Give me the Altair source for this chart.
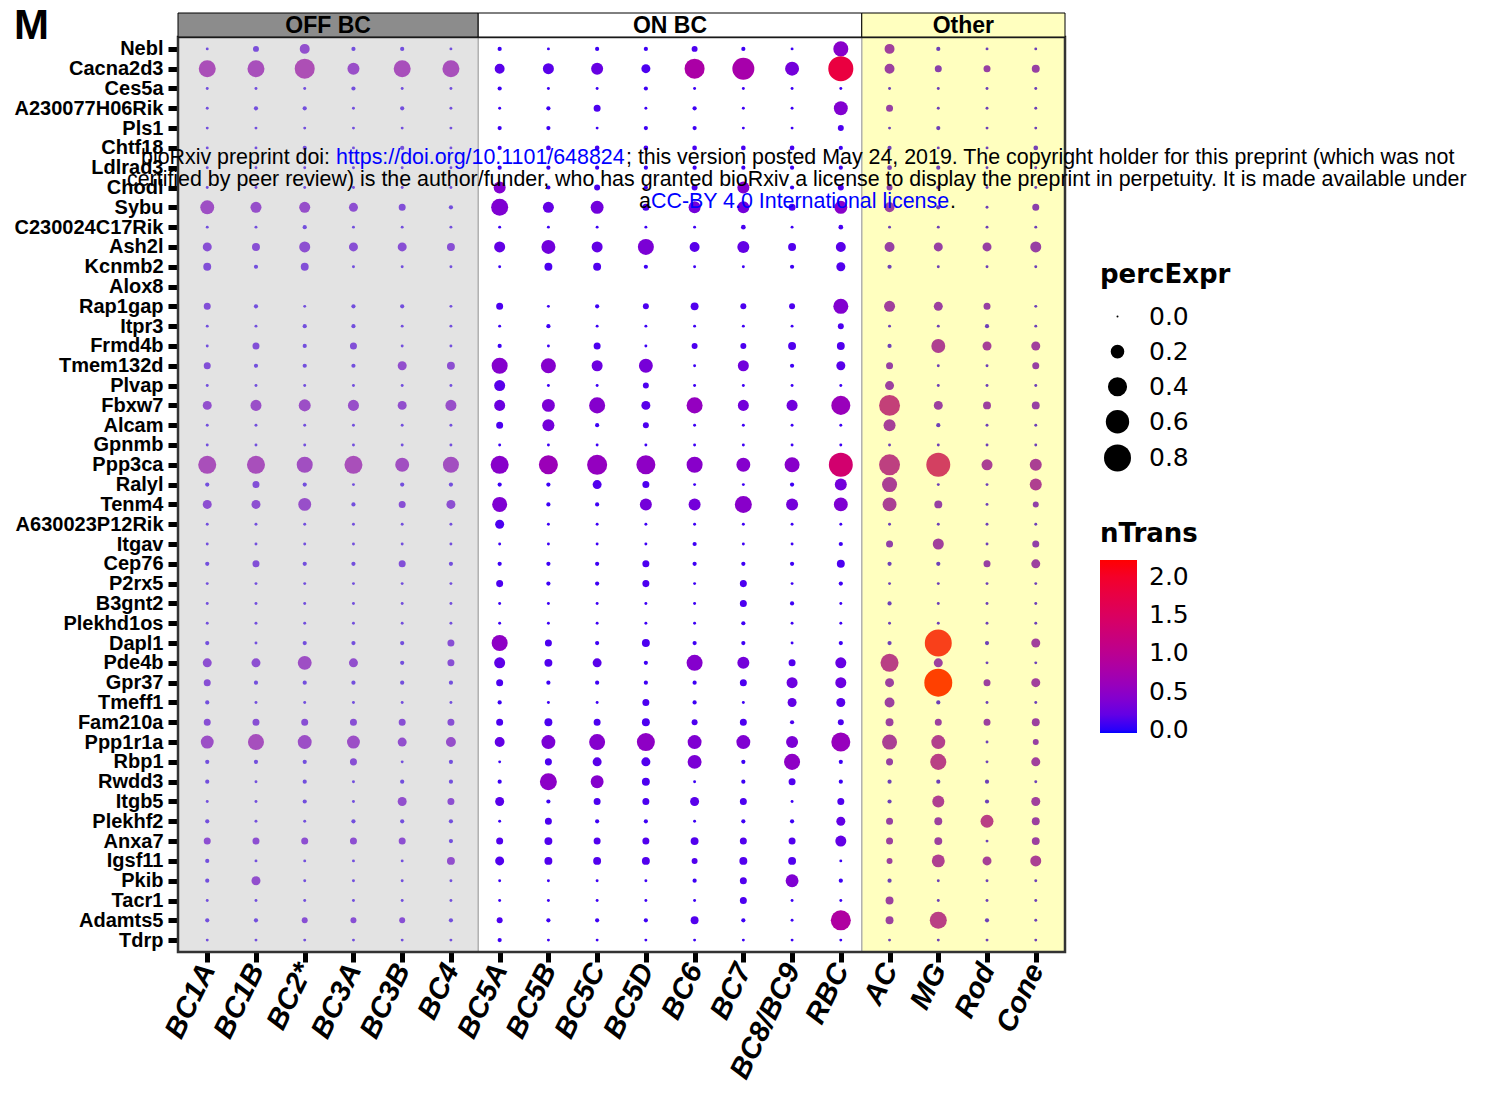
import json
import altair as alt
import pandas as pd

# Cell clusters (x axis, left to right) and genes (y axis, top to bottom)
CLUSTERS = ["BC1A", "BC1B", "BC2*", "BC3A", "BC3B", "BC4", "BC5A", "BC5B", "BC5C",
            "BC5D", "BC6", "BC7", "BC8/BC9", "RBC", "AC", "MG", "Rod", "Cone"]

GENES = ["Nebl", "Cacna2d3", "Ces5a", "A230077H06Rik", "Pls1", "Chtf18", "Ldlrad3",
         "Chodl", "Sybu", "C230024C17Rik", "Ash2l", "Kcnmb2", "Alox8", "Rap1gap",
         "Itpr3", "Frmd4b", "Tmem132d", "Plvap", "Fbxw7", "Alcam", "Gpnmb", "Ppp3ca",
         "Ralyl", "Tenm4", "A630023P12Rik", "Itgav", "Cep76", "P2rx5", "B3gnt2",
         "Plekhd1os", "Dapl1", "Pde4b", "Gpr37", "Tmeff1", "Fam210a", "Ppp1r1a",
         "Rbp1", "Rwdd3", "Itgb5", "Plekhf2", "Anxa7", "Igsf11", "Pkib", "Tacr1",
         "Adamts5", "Tdrp"]

# Fraction of cells expressing each gene (one row per gene, one value per cluster)
PERC_EXPR = [
    [0.005, 0.035, 0.105, 0.015, 0.015, 0.005, 0.015, 0.005, 0.015, 0.015, 0.035, 0.015, 0.005, 0.245, 0.105, 0.015, 0.005, 0.005],
    [0.315, 0.315, 0.44, 0.155, 0.315, 0.315, 0.105, 0.13, 0.155, 0.085, 0.44, 0.53, 0.21, 0.69, 0.105, 0.05, 0.05, 0.065],
    [0.005, 0.005, 0.005, 0.015, 0.005, 0.005, 0.015, 0.005, 0.005, 0.015, 0.005, 0.005, 0.005, 0.005, 0.005, 0.005, 0.005, 0.005],
    [0.005, 0.015, 0.015, 0.005, 0.015, 0.005, 0.005, 0.015, 0.05, 0.005, 0.015, 0.005, 0.005, 0.21, 0.05, 0.005, 0.005, 0.005],
    [0.005, 0.005, 0.005, 0.005, 0.005, 0.005, 0.015, 0.015, 0.005, 0.015, 0.015, 0.005, 0.005, 0.035, 0.005, 0.015, 0.005, 0.005],
    [0.005, 0.005, 0.015, 0.005, 0.015, 0.005, 0.015, 0.02, 0.02, 0.02, 0.02, 0.02, 0.02, 0.015, 0.015, 0.005, 0.005, 0.02],
    [0.005, 0.005, 0.005, 0.005, 0.005, 0.005, 0.015, 0.015, 0.015, 0.015, 0.015, 0.015, 0.015, 0.015, 0.02, 0.015, 0.005, 0.005],
    [0.005, 0.005, 0.005, 0.005, 0.005, 0.005, 0.155, 0.015, 0.035, 0.015, 0.035, 0.155, 0.015, 0.035, 0.035, 0.015, 0.005, 0.005],
    [0.21, 0.13, 0.13, 0.085, 0.05, 0.015, 0.315, 0.13, 0.18, 0.05, 0.155, 0.155, 0.05, 0.18, 0.105, 0.015, 0.005, 0.05],
    [0.005, 0.005, 0.015, 0.005, 0.005, 0.005, 0.005, 0.005, 0.005, 0.005, 0.005, 0.02, 0.005, 0.02, 0.005, 0.005, 0.005, 0.005],
    [0.085, 0.065, 0.13, 0.085, 0.085, 0.065, 0.13, 0.21, 0.13, 0.28, 0.105, 0.155, 0.065, 0.105, 0.105, 0.085, 0.085, 0.13],
    [0.065, 0.015, 0.065, 0.005, 0.005, 0.005, 0.005, 0.065, 0.065, 0.015, 0.005, 0.005, 0.015, 0.085, 0.015, 0.005, 0.005, 0.005],
    None,
    [0.05, 0.015, 0.005, 0.015, 0.015, 0.005, 0.05, 0.005, 0.015, 0.035, 0.065, 0.035, 0.035, 0.245, 0.13, 0.085, 0.05, 0.005],
    [0.005, 0.005, 0.015, 0.015, 0.005, 0.005, 0.005, 0.015, 0.005, 0.005, 0.005, 0.005, 0.005, 0.035, 0.005, 0.005, 0.015, 0.005],
    [0.005, 0.05, 0.015, 0.05, 0.005, 0.005, 0.015, 0.005, 0.05, 0.005, 0.035, 0.035, 0.065, 0.065, 0.015, 0.21, 0.085, 0.085],
    [0.05, 0.015, 0.015, 0.015, 0.085, 0.065, 0.28, 0.245, 0.13, 0.21, 0.005, 0.13, 0.015, 0.085, 0.05, 0.005, 0.005, 0.05],
    [0.005, 0.005, 0.005, 0.005, 0.005, 0.005, 0.13, 0.005, 0.005, 0.035, 0.005, 0.005, 0.005, 0.005, 0.085, 0.005, 0.005, 0.005],
    [0.085, 0.13, 0.155, 0.13, 0.085, 0.13, 0.13, 0.18, 0.28, 0.085, 0.28, 0.13, 0.13, 0.395, 0.48, 0.085, 0.065, 0.065],
    [0.005, 0.005, 0.005, 0.005, 0.005, 0.005, 0.05, 0.155, 0.015, 0.035, 0.005, 0.005, 0.005, 0.005, 0.155, 0.015, 0.005, 0.005],
    [0.005, 0.005, 0.005, 0.005, 0.005, 0.005, 0.005, 0.005, 0.005, 0.005, 0.005, 0.005, 0.005, 0.005, 0.005, 0.005, 0.005, 0.005],
    [0.355, 0.355, 0.28, 0.355, 0.21, 0.28, 0.355, 0.395, 0.44, 0.395, 0.28, 0.21, 0.245, 0.63, 0.48, 0.63, 0.13, 0.155],
    [0.015, 0.05, 0.015, 0.005, 0.015, 0.015, 0.015, 0.015, 0.085, 0.05, 0.005, 0.005, 0.015, 0.155, 0.245, 0.005, 0.005, 0.155],
    [0.085, 0.085, 0.18, 0.015, 0.05, 0.085, 0.245, 0.015, 0.015, 0.155, 0.155, 0.315, 0.155, 0.21, 0.21, 0.065, 0.005, 0.035],
    [0.005, 0.005, 0.005, 0.005, 0.005, 0.005, 0.085, 0.005, 0.005, 0.005, 0.005, 0.005, 0.005, 0.005, 0.005, 0.005, 0.005, 0.005],
    [0.005, 0.005, 0.005, 0.005, 0.005, 0.005, 0.005, 0.005, 0.005, 0.005, 0.015, 0.005, 0.005, 0.015, 0.05, 0.13, 0.005, 0.05],
    [0.015, 0.05, 0.015, 0.015, 0.05, 0.015, 0.015, 0.015, 0.015, 0.05, 0.015, 0.015, 0.015, 0.065, 0.015, 0.015, 0.05, 0.085],
    [0.005, 0.005, 0.005, 0.005, 0.005, 0.005, 0.05, 0.015, 0.015, 0.05, 0.005, 0.05, 0.005, 0.015, 0.005, 0.005, 0.005, 0.005],
    [0.005, 0.005, 0.005, 0.005, 0.005, 0.005, 0.005, 0.005, 0.005, 0.005, 0.005, 0.05, 0.015, 0.005, 0.015, 0.005, 0.005, 0.005],
    [0.005, 0.005, 0.005, 0.005, 0.005, 0.005, 0.005, 0.005, 0.005, 0.005, 0.005, 0.015, 0.005, 0.005, 0.005, 0.005, 0.005, 0.005],
    [0.015, 0.005, 0.015, 0.015, 0.015, 0.05, 0.28, 0.05, 0.015, 0.065, 0.015, 0.015, 0.005, 0.015, 0.015, 0.8, 0.015, 0.085],
    [0.085, 0.085, 0.21, 0.085, 0.015, 0.05, 0.13, 0.065, 0.085, 0.015, 0.28, 0.155, 0.05, 0.13, 0.355, 0.085, 0.005, 0.005],
    [0.05, 0.015, 0.015, 0.015, 0.015, 0.015, 0.05, 0.015, 0.015, 0.015, 0.015, 0.05, 0.13, 0.13, 0.085, 0.86, 0.05, 0.085],
    [0.015, 0.005, 0.005, 0.005, 0.005, 0.005, 0.015, 0.005, 0.005, 0.05, 0.015, 0.005, 0.085, 0.085, 0.105, 0.015, 0.005, 0.005],
    [0.05, 0.05, 0.05, 0.05, 0.05, 0.05, 0.05, 0.065, 0.05, 0.065, 0.035, 0.05, 0.015, 0.035, 0.065, 0.05, 0.05, 0.065],
    [0.18, 0.28, 0.21, 0.18, 0.085, 0.105, 0.105, 0.21, 0.28, 0.355, 0.21, 0.21, 0.155, 0.395, 0.245, 0.21, 0.005, 0.035],
    [0.015, 0.015, 0.015, 0.05, 0.005, 0.015, 0.005, 0.05, 0.085, 0.085, 0.21, 0.015, 0.28, 0.015, 0.05, 0.28, 0.005, 0.085],
    [0.015, 0.005, 0.015, 0.005, 0.015, 0.015, 0.015, 0.315, 0.18, 0.065, 0.005, 0.015, 0.05, 0.015, 0.015, 0.015, 0.015, 0.005],
    [0.005, 0.005, 0.015, 0.005, 0.085, 0.05, 0.085, 0.015, 0.05, 0.05, 0.085, 0.05, 0.005, 0.05, 0.015, 0.155, 0.015, 0.085],
    [0.015, 0.005, 0.005, 0.015, 0.015, 0.015, 0.005, 0.05, 0.015, 0.015, 0.005, 0.015, 0.015, 0.085, 0.05, 0.065, 0.18, 0.065],
    [0.05, 0.05, 0.05, 0.05, 0.05, 0.015, 0.05, 0.065, 0.05, 0.05, 0.065, 0.05, 0.05, 0.13, 0.05, 0.065, 0.005, 0.065],
    [0.015, 0.005, 0.005, 0.005, 0.005, 0.065, 0.085, 0.065, 0.065, 0.065, 0.035, 0.065, 0.065, 0.005, 0.035, 0.18, 0.085, 0.13],
    [0.015, 0.085, 0.005, 0.005, 0.005, 0.005, 0.005, 0.005, 0.005, 0.005, 0.015, 0.05, 0.18, 0.015, 0.015, 0.005, 0.005, 0.005],
    [0.005, 0.005, 0.005, 0.005, 0.005, 0.005, 0.005, 0.005, 0.005, 0.005, 0.005, 0.05, 0.005, 0.005, 0.065, 0.005, 0.005, 0.005],
    [0.015, 0.015, 0.035, 0.035, 0.035, 0.015, 0.035, 0.015, 0.015, 0.015, 0.065, 0.015, 0.005, 0.44, 0.065, 0.315, 0.015, 0.005],
    [0.005, 0.005, 0.005, 0.005, 0.005, 0.005, 0.015, 0.005, 0.005, 0.005, 0.005, 0.005, 0.005, 0.005, 0.005, 0.005, 0.005, 0.005],
]

# Mean transcript count per expressing cell (same layout as PERC_EXPR)
N_TRANS = [
    [0.05, 0.1, 0.3, 0.05, 0.05, 0.05, 0.05, 0.05, 0.05, 0.05, 0.1, 0.05, 0.05, 0.45, 0.4, 0.05, 0.05, 0.05],
    [0.65, 0.6, 0.7, 0.4, 0.6, 0.6, 0.15, 0.15, 0.22, 0.1, 0.8, 0.75, 0.3, 1.8, 0.35, 0.2, 0.3, 0.3],
    [0.05, 0.05, 0.05, 0.05, 0.05, 0.05, 0.05, 0.05, 0.05, 0.05, 0.05, 0.05, 0.05, 0.05, 0.05, 0.05, 0.05, 0.05],
    [0.05, 0.05, 0.05, 0.05, 0.05, 0.05, 0.05, 0.05, 0.1, 0.05, 0.05, 0.05, 0.05, 0.4, 0.3, 0.05, 0.05, 0.05],
    [0.05, 0.05, 0.05, 0.05, 0.05, 0.05, 0.05, 0.05, 0.05, 0.05, 0.05, 0.05, 0.05, 0.1, 0.05, 0.05, 0.05, 0.05],
    [0.05, 0.05, 0.05, 0.05, 0.05, 0.05, 0.05, 0.08, 0.08, 0.08, 0.08, 0.08, 0.08, 0.05, 0.05, 0.05, 0.05, 0.08],
    [0.05, 0.05, 0.05, 0.05, 0.05, 0.05, 0.05, 0.05, 0.05, 0.05, 0.05, 0.05, 0.05, 0.05, 0.1, 0.05, 0.05, 0.05],
    [0.05, 0.05, 0.05, 0.05, 0.05, 0.05, 0.4, 0.05, 0.1, 0.05, 0.1, 0.4, 0.05, 0.1, 0.2, 0.05, 0.05, 0.05],
    [0.45, 0.35, 0.35, 0.25, 0.15, 0.05, 0.38, 0.2, 0.28, 0.1, 0.3, 0.3, 0.1, 0.45, 0.35, 0.05, 0.05, 0.2],
    [0.05, 0.05, 0.05, 0.05, 0.05, 0.05, 0.05, 0.05, 0.05, 0.05, 0.05, 0.08, 0.05, 0.08, 0.05, 0.05, 0.05, 0.05],
    [0.2, 0.2, 0.25, 0.2, 0.2, 0.2, 0.2, 0.28, 0.2, 0.35, 0.15, 0.2, 0.12, 0.15, 0.3, 0.3, 0.3, 0.3],
    [0.15, 0.05, 0.15, 0.05, 0.05, 0.05, 0.05, 0.1, 0.12, 0.05, 0.05, 0.05, 0.05, 0.12, 0.05, 0.05, 0.05, 0.05],
    None,
    [0.15, 0.05, 0.05, 0.05, 0.05, 0.05, 0.1, 0.05, 0.05, 0.1, 0.12, 0.1, 0.1, 0.4, 0.4, 0.35, 0.3, 0.05],
    [0.05, 0.05, 0.05, 0.05, 0.05, 0.05, 0.05, 0.05, 0.05, 0.05, 0.05, 0.05, 0.05, 0.1, 0.05, 0.05, 0.05, 0.05],
    [0.05, 0.15, 0.05, 0.15, 0.05, 0.05, 0.05, 0.05, 0.1, 0.05, 0.1, 0.1, 0.12, 0.12, 0.05, 0.55, 0.45, 0.4],
    [0.15, 0.05, 0.05, 0.05, 0.3, 0.25, 0.42, 0.42, 0.25, 0.32, 0.05, 0.28, 0.05, 0.15, 0.3, 0.05, 0.05, 0.3],
    [0.05, 0.05, 0.05, 0.05, 0.05, 0.05, 0.15, 0.05, 0.05, 0.1, 0.05, 0.05, 0.05, 0.05, 0.35, 0.05, 0.05, 0.05],
    [0.3, 0.4, 0.42, 0.38, 0.3, 0.38, 0.25, 0.35, 0.42, 0.15, 0.55, 0.3, 0.28, 0.6, 0.85, 0.35, 0.35, 0.3],
    [0.05, 0.05, 0.05, 0.05, 0.05, 0.05, 0.1, 0.3, 0.05, 0.1, 0.05, 0.05, 0.05, 0.05, 0.45, 0.05, 0.05, 0.05],
    [0.05, 0.05, 0.05, 0.05, 0.05, 0.05, 0.05, 0.05, 0.05, 0.05, 0.05, 0.05, 0.05, 0.05, 0.05, 0.05, 0.05, 0.05],
    [0.62, 0.6, 0.5, 0.62, 0.5, 0.52, 0.45, 0.62, 0.55, 0.5, 0.45, 0.42, 0.45, 1.35, 0.75, 1.15, 0.5, 0.5],
    [0.05, 0.15, 0.05, 0.05, 0.05, 0.05, 0.05, 0.05, 0.12, 0.1, 0.05, 0.05, 0.05, 0.3, 0.5, 0.05, 0.05, 0.55],
    [0.25, 0.25, 0.38, 0.05, 0.2, 0.25, 0.38, 0.05, 0.05, 0.3, 0.3, 0.45, 0.3, 0.38, 0.5, 0.3, 0.05, 0.25],
    [0.05, 0.05, 0.05, 0.05, 0.05, 0.05, 0.1, 0.05, 0.05, 0.05, 0.05, 0.05, 0.05, 0.05, 0.05, 0.05, 0.05, 0.05],
    [0.05, 0.05, 0.05, 0.05, 0.05, 0.05, 0.05, 0.05, 0.05, 0.05, 0.05, 0.05, 0.05, 0.05, 0.25, 0.4, 0.05, 0.25],
    [0.05, 0.15, 0.05, 0.05, 0.15, 0.05, 0.05, 0.05, 0.05, 0.1, 0.05, 0.05, 0.05, 0.1, 0.05, 0.05, 0.3, 0.35],
    [0.05, 0.05, 0.05, 0.05, 0.05, 0.05, 0.1, 0.05, 0.05, 0.1, 0.05, 0.1, 0.05, 0.05, 0.05, 0.05, 0.05, 0.05],
    [0.05, 0.05, 0.05, 0.05, 0.05, 0.05, 0.05, 0.05, 0.05, 0.05, 0.05, 0.1, 0.05, 0.05, 0.05, 0.05, 0.05, 0.05],
    [0.05, 0.05, 0.05, 0.05, 0.05, 0.05, 0.05, 0.05, 0.05, 0.05, 0.05, 0.05, 0.05, 0.05, 0.05, 0.05, 0.05, 0.05],
    [0.05, 0.05, 0.05, 0.05, 0.05, 0.2, 0.5, 0.1, 0.05, 0.1, 0.05, 0.05, 0.05, 0.05, 0.05, 2.05, 0.05, 0.4],
    [0.25, 0.25, 0.45, 0.3, 0.05, 0.2, 0.18, 0.12, 0.15, 0.05, 0.42, 0.3, 0.12, 0.22, 0.7, 0.35, 0.05, 0.05],
    [0.2, 0.05, 0.05, 0.05, 0.05, 0.05, 0.1, 0.05, 0.05, 0.05, 0.05, 0.1, 0.25, 0.25, 0.35, 2.22, 0.35, 0.4],
    [0.05, 0.05, 0.05, 0.05, 0.05, 0.05, 0.05, 0.05, 0.05, 0.1, 0.05, 0.05, 0.2, 0.15, 0.35, 0.05, 0.05, 0.05],
    [0.2, 0.2, 0.2, 0.2, 0.2, 0.2, 0.1, 0.1, 0.1, 0.1, 0.1, 0.1, 0.1, 0.1, 0.35, 0.35, 0.35, 0.35],
    [0.42, 0.58, 0.42, 0.42, 0.3, 0.35, 0.2, 0.35, 0.42, 0.5, 0.38, 0.38, 0.35, 0.58, 0.5, 0.6, 0.05, 0.3],
    [0.05, 0.05, 0.05, 0.2, 0.05, 0.05, 0.05, 0.1, 0.15, 0.12, 0.35, 0.05, 0.5, 0.05, 0.3, 0.7, 0.05, 0.4],
    [0.05, 0.05, 0.05, 0.05, 0.05, 0.05, 0.05, 0.48, 0.42, 0.1, 0.05, 0.05, 0.12, 0.05, 0.05, 0.05, 0.05, 0.05],
    [0.05, 0.05, 0.05, 0.05, 0.3, 0.25, 0.15, 0.05, 0.1, 0.1, 0.15, 0.1, 0.05, 0.12, 0.05, 0.55, 0.05, 0.4],
    [0.05, 0.05, 0.05, 0.05, 0.05, 0.05, 0.05, 0.1, 0.05, 0.05, 0.05, 0.05, 0.05, 0.2, 0.3, 0.35, 0.7, 0.35],
    [0.25, 0.25, 0.25, 0.25, 0.25, 0.05, 0.12, 0.12, 0.12, 0.12, 0.12, 0.12, 0.12, 0.2, 0.35, 0.35, 0.05, 0.35],
    [0.05, 0.05, 0.05, 0.05, 0.05, 0.3, 0.12, 0.12, 0.12, 0.12, 0.12, 0.12, 0.12, 0.05, 0.35, 0.55, 0.45, 0.5],
    [0.05, 0.3, 0.05, 0.05, 0.05, 0.05, 0.05, 0.05, 0.05, 0.05, 0.05, 0.12, 0.38, 0.05, 0.05, 0.05, 0.05, 0.05],
    [0.05, 0.05, 0.05, 0.05, 0.05, 0.05, 0.05, 0.05, 0.05, 0.05, 0.05, 0.1, 0.05, 0.05, 0.35, 0.05, 0.05, 0.05],
    [0.05, 0.05, 0.2, 0.2, 0.2, 0.05, 0.1, 0.05, 0.05, 0.05, 0.12, 0.05, 0.05, 0.85, 0.35, 0.7, 0.05, 0.05],
    [0.05, 0.05, 0.05, 0.05, 0.05, 0.05, 0.05, 0.05, 0.05, 0.05, 0.05, 0.05, 0.05, 0.05, 0.05, 0.05, 0.05, 0.05],
]

# Cluster groups: header label, span on the cluster axis, strip fill, panel tint
GROUPS = ["OFF BC", "ON BC", "Other"]
GROUP_EDGES = [0.4, 6.56, 14.43, 18.6]
STRIP_FILL = ["#8c8c8c", "#ffffff", "#ffffbf"]
TINT_FILL = ["#bdbdbd", "#ffffff", "#ffff00"]
TINT_ALPHA = [0.42, 0.0, 0.25]

# bioRxiv notice printed across the figure: (text, colour) segments per line
NOTICE = [
    [("bioRxiv preprint doi: ", "black"), ("https://doi.org/10.1101/648824", "blue"),
     ("; this version posted May 24, 2019. The copyright holder for this preprint (which was not", "black")],
    [("certified by peer review) is the author/funder, who has granted bioRxiv a license to display the preprint in perpetuity. It is made available under", "black")],
    [("a", "black"), ("CC-BY 4.0 International license", "blue"), (".", "black")],
]
NOTICE_X = [[141, 336, 626], [127], [639, 651, 950]]
NOTICE_Y = [164, 186, 208]

W, H = 887, 915
LEFT, TOP = 178, 37
SANS = "Liberation Sans"
WIDE = "DejaVu Sans"

rows = []
for gi, gene in enumerate(GENES):
    if PERC_EXPR[gi] is None:
        continue
    for ci, cl in enumerate(CLUSTERS):
        rows.append({"gene": gene, "row": gi + 1, "cluster": cl, "col": ci + 1,
                     "percExpr": PERC_EXPR[gi][ci], "nTrans": N_TRANS[gi][ci]})
dots = pd.DataFrame(rows)

groups = pd.DataFrame({
    "group": GROUPS,
    "x0": GROUP_EDGES[:-1],
    "x1": GROUP_EDGES[1:],
    "strip": STRIP_FILL,
    "tint": TINT_FILL,
    "alpha": TINT_ALPHA,
})
groups["mid"] = (groups["x0"] + groups["x1"]) / 2
inner_edges = pd.DataFrame({"x": GROUP_EDGES[1:-1]})

notice_rows = []
for li, line in enumerate(NOTICE):
    for si, (txt, colr) in enumerate(line):
        notice_rows.append({"text": txt, "color": colr,
                            "px": NOTICE_X[li][si] - LEFT, "py": NOTICE_Y[li] - TOP})
notice = pd.DataFrame(notice_rows)

x_scale = alt.Scale(domain=[GROUP_EDGES[0], GROUP_EDGES[-1]], nice=False, zero=False)
y_scale = alt.Scale(domain=[0.4, len(GENES) + 0.6], nice=False, zero=False, reverse=True)

x_axis = alt.Axis(
    values=list(range(1, len(CLUSTERS) + 1)),
    labelExpr=f"{json.dumps(CLUSTERS)}[datum.value - 1]",
    labelAngle=-64, labelAlign="right", labelBaseline="middle",
    labelFont=SANS, labelFontSize=29, labelFontWeight="bold",
    labelFontStyle="italic", labelColor="black", labelPadding=3,
    tickColor="black", tickWidth=5, tickSize=10, domain=False, grid=False,
    labelOverlap=False, labelFlush=False, title=None,
)
y_axis = alt.Axis(
    values=list(range(1, len(GENES) + 1)),
    labelExpr=f"{json.dumps(GENES)}[datum.value - 1]",
    labelFont=SANS, labelFontSize=20, labelFontWeight="bold",
    labelColor="black", labelPadding=5, tickColor="black", tickWidth=5,
    tickSize=10, domain=False, grid=False, labelOverlap=False, labelFlush=False,
    title=None,
)

points = alt.Chart(dots).mark_circle(opacity=1).encode(
    x=alt.X("col:Q", scale=x_scale, axis=x_axis),
    y=alt.Y("row:Q", scale=y_scale, axis=y_axis),
    size=alt.Size(
        "percExpr:Q",
        scale=alt.Scale(domain=[0, 0.8], range=[4, 728]),
        legend=alt.Legend(
            title="percExpr", orient="none", legendX=922, legendY=225,
            values=[0.0, 0.2, 0.4, 0.6, 0.8], format=".1f",
            titleFont=WIDE, titleFontSize=26, titleFontWeight="bold",
            titleColor="black", titlePadding=16,
            labelFont=WIDE, labelFontSize=25, labelColor="black",
            symbolFillColor="black", symbolStrokeWidth=0, symbolType="circle",
            symbolOpacity=1, symbolOffset=4, labelOffset=18, rowPadding=9.1,
        ),
    ),
    color=alt.Color(
        "nTrans:Q",
        scale=alt.Scale(domain=[-0.04, 2.22], range=["#0000ff", "#ff0000"], interpolate="lab"),
        legend=alt.Legend(
            title="nTrans", orient="none", legendX=922, legendY=484,
            values=[0.0, 0.5, 1.0, 1.5, 2.0], format=".1f",
            titleFont=WIDE, titleFontSize=26, titleFontWeight="bold",
            titleColor="black", titlePadding=13,
            labelFont=WIDE, labelFontSize=25, labelColor="black",
            labelBaseline="middle",
            gradientLength=173, gradientThickness=37, labelOffset=12,
            labelOverlap=False, direction="vertical",
        ),
    ),
)

tint = alt.Chart(groups).mark_rect().encode(
    x=alt.X("x0:Q", scale=x_scale, title=None),
    x2="x1:Q",
    y=alt.value(0), y2=alt.value(H),
    fill=alt.Fill("tint:N", scale=None),
    opacity=alt.Opacity("alpha:Q", scale=None),
)

edges = alt.Chart(inner_edges).mark_rule(color="#b0b0b0", strokeWidth=1.5).encode(
    x=alt.X("x:Q", scale=x_scale, title=None),
    y=alt.value(0), y2=alt.value(H),
)

frame = alt.Chart(pd.DataFrame({"k": [0]})).mark_rect(
    filled=False, stroke="#333333", strokeWidth=2.5
).encode(x=alt.value(0), x2=alt.value(W), y=alt.value(0), y2=alt.value(H))

strips = alt.Chart(groups).mark_rect(stroke="black", strokeWidth=1).encode(
    x=alt.X("x0:Q", scale=x_scale, title=None),
    x2="x1:Q",
    y=alt.value(-24), y2=alt.value(0),
    fill=alt.Fill("strip:N", scale=None),
)

strip_text = alt.Chart(groups).mark_text(
    font=SANS, fontSize=23, fontWeight="bold", color="black",
    baseline="middle", align="center", dy=1,
).encode(
    x=alt.X("mid:Q", scale=x_scale, title=None),
    y=alt.value(-12),
    text="group:N",
)

panel_tag = alt.Chart(pd.DataFrame({"k": [0]})).mark_text(
    font=SANS, fontSize=42, fontWeight="bold", color="black",
    align="left", baseline="middle",
).encode(x=alt.value(14 - LEFT), y=alt.value(26 - TOP), text=alt.value("M"))

notice_text = alt.Chart(notice).mark_text(
    font=SANS, fontSize=21.4, align="left", baseline="alphabetic",
).encode(
    x=alt.X("px:Q", scale=None, axis=None),
    y=alt.Y("py:Q", scale=None, axis=None),
    text="text:N",
    color=alt.Color("color:N", scale=None),
)

chart = alt.layer(
    points, tint, edges, frame, strips, strip_text, panel_tag, notice_text
).properties(
    width=W, height=H,
    padding={"left": LEFT, "top": TOP, "right": 1485 - LEFT - W, "bottom": 1093 - TOP - H},
    autosize=alt.AutoSizeParams(type="none"),
).configure_view(stroke=None).configure(background="white")

chart.save("out.html", embed_options={"renderer": "svg", "actions": False})
